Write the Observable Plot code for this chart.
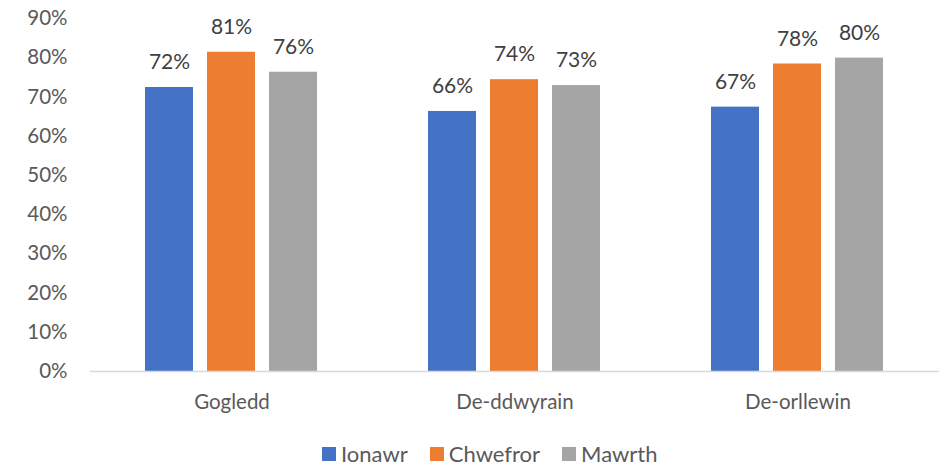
<!DOCTYPE html>
<html>
<head>
<meta charset="utf-8">
<script src="https://cdn.jsdelivr.net/npm/d3@7"></script>
<script src="https://cdn.jsdelivr.net/npm/@observablehq/plot@0.6"></script>
<style>
  body { margin: 0; background: #fff; font-family: Lato, "Open Sans", sans-serif; }
  #wrap { position: relative; width: 948px; height: 468px; }
  #legend { position: absolute; left: 322px; top: 440px; display: flex; align-items: center; font-size: 22px; color: #595959; }
  #legend .item { display: flex; align-items: center; margin-right: 22px; }
  #legend .sw { width: 14px; height: 14px; margin-right: 5px; }
</style>
</head>
<body>
<div id="wrap">
  <div id="chart"></div>
  <div id="legend"></div>
</div>
<script>
const regions = ["Gogledd", "De-ddwyrain", "De-orllewin"];
const months = ["Ionawr", "Chwefror", "Mawrth"];
const colors = ["#4472C4", "#ED7D31", "#A5A5A5"];
const ionawr = [72.4, 66.3, 67.4];
const chwefror = [81.4, 74.4, 78.4];
const mawrth = [76.3, 72.9, 79.9];
const yTicks = [0, 10, 20, 30, 40, 50, 60, 70, 80, 90];

const series = [ionawr, chwefror, mawrth];
const data = [];
regions.forEach((r, i) => months.forEach((m, j) => data.push({region: r, month: m, value: series[j][i]})));

const chart = Plot.plot({
  width: 948,
  height: 430,
  marginLeft: 89,
  marginRight: 8,
  marginTop: 18,
  marginBottom: 59,
  style: { fontFamily: "Lato, 'Open Sans', sans-serif", fontSize: "20.5px", color: "#595959" },
  fx: { domain: regions, padding: 0, axis: "bottom", tickSize: 0, tickPadding: 23, label: null, fontSize: 21 },
  x: { domain: months, axis: null, paddingInner: 0.222, paddingOuter: 0.862 },
  y: { domain: [0, 90], ticks: yTicks, tickFormat: d => d + "%", tickSize: 0, tickPadding: 23, label: null },
  color: { domain: months, range: colors },
  marks: [
    Plot.barY(data, { fx: "region", x: "month", y: "value", fill: "month" }),
    Plot.ruleY([0], { stroke: "#d9d9d9", strokeWidth: 1.5 }),
    Plot.text(data, { fx: "region", x: "month", y: "value", text: d => Math.round(d.value) + "%", dy: -25, fill: "#404040", fontSize: 21 })
  ]
});
document.getElementById("chart").appendChild(chart);

const legend = document.getElementById("legend");
months.forEach((m, i) => {
  const item = document.createElement("div");
  item.className = "item";
  item.innerHTML = `<div class="sw" style="background:${colors[i]}"></div><span>${m}</span>`;
  legend.appendChild(item);
});
</script>
</body>
</html>
